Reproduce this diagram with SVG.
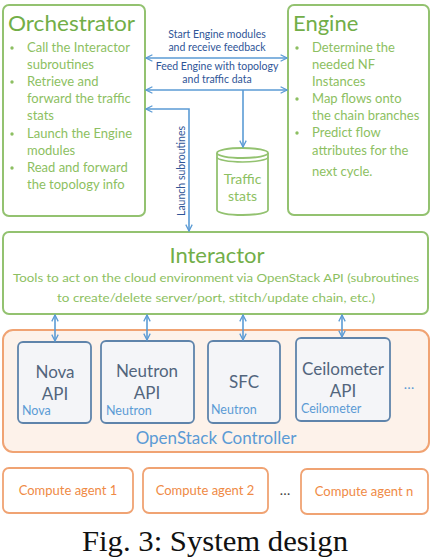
<svg xmlns="http://www.w3.org/2000/svg" width="433" height="559" viewBox="0 0 433 559">
  <style>
    .gbox { fill: #ffffff; stroke: #93c270; stroke-width: 2; }
    .gtitle { font-family: Lato, "Open Sans", sans-serif; font-size: 22px; fill: #72ae48; }
    .gtext { font-family: Lato, "Open Sans", sans-serif; font-size: 13px; fill: #8dbf62; }
    .bullet { fill: #8dbf62; }
    .conn { fill: none; stroke: #5b9bd5; stroke-width: 1.6; }
    .clabel { font-family: Lato, "Open Sans", sans-serif; font-size: 10.5px; fill: #2f5597; text-anchor: middle; }
    .api { fill: #f4f5f8; stroke: #5f84ab; stroke-width: 1.8; }
    .apititle { font-family: Lato, "Open Sans", sans-serif; font-size: 17px; fill: #52657d; text-anchor: middle; }
    .apisub { font-family: Lato, "Open Sans", sans-serif; font-size: 12.5px; fill: #5b9bd5; }
    .obox { fill: #ffffff; stroke: #f0a373; stroke-width: 1.8; }
    .otext { font-family: Lato, "Open Sans", sans-serif; font-size: 13px; fill: #ef8a45; text-anchor: middle; }
    .dots { font-family: Lato, "Open Sans", sans-serif; font-size: 14px; fill: #5b9bd5; text-anchor: middle; }
  </style>
  <defs>
    <marker id="head" viewBox="0 0 10 10" refX="9" refY="5" markerWidth="8" markerHeight="8" markerUnits="userSpaceOnUse" orient="auto-start-reverse">
      <path d="M1,1 L9,5 L1,9" fill="none" stroke="#5b9bd5" stroke-width="1.6"/>
    </marker>
  </defs>

  <rect width="433" height="559" fill="#ffffff"/>

  <!-- OpenStack controller container -->
  <g id="openstack">
    <rect x="3" y="330" width="426" height="122" rx="10" fill="#fdf2ea" stroke="#f0a373" stroke-width="2"/>
    <text x="216" y="444" text-anchor="middle" font-family="Lato, 'Open Sans', sans-serif" font-size="17" fill="#5b9bd5">OpenStack Controller</text>
    <text class="dots" x="409" y="389">…</text>
  </g>

  <!-- Orchestrator -->
  <g id="orchestrator">
    <rect class="gbox" x="3" y="5" width="142" height="211" rx="6"/>
    <text class="gtitle" x="8" y="31" textLength="127" lengthAdjust="spacingAndGlyphs">Orchestrator</text>
    <circle class="bullet" cx="12" cy="48" r="1.7"/>
    <circle class="bullet" cx="12" cy="82" r="1.7"/>
    <circle class="bullet" cx="12" cy="134" r="1.7"/>
    <circle class="bullet" cx="12" cy="168" r="1.7"/>
    <text class="gtext" x="27" y="52">Call the Interactor</text>
    <text class="gtext" x="27" y="69">subroutines</text>
    <text class="gtext" x="27" y="86">Retrieve and</text>
    <text class="gtext" x="27" y="103">forward the traffic</text>
    <text class="gtext" x="27" y="120">stats</text>
    <text class="gtext" x="27" y="138">Launch the Engine</text>
    <text class="gtext" x="27" y="155">modules</text>
    <text class="gtext" x="27" y="172">Read and forward</text>
    <text class="gtext" x="27" y="189">the topology info</text>
  </g>

  <!-- Engine -->
  <g id="engine">
    <rect class="gbox" x="288" y="5" width="141" height="210" rx="6"/>
    <text class="gtitle" x="293" y="31">Engine</text>
    <circle class="bullet" cx="297" cy="48" r="1.7"/>
    <circle class="bullet" cx="297" cy="99" r="1.7"/>
    <circle class="bullet" cx="297" cy="133" r="1.7"/>
    <text class="gtext" x="312" y="52">Determine the</text>
    <text class="gtext" x="312" y="69">needed NF</text>
    <text class="gtext" x="312" y="86">Instances</text>
    <text class="gtext" x="312" y="103">Map flows onto</text>
    <text class="gtext" x="312" y="120">the chain branches</text>
    <text class="gtext" x="312" y="137">Predict flow</text>
    <text class="gtext" x="312" y="155">attributes for the</text>
    <text class="gtext" x="312" y="176">next cycle.</text>
  </g>

  <!-- Traffic stats store -->
  <g id="traffic-stats">
    <path d="M217,153 L217,210 A25.5,5 0 0 0 268,210 L268,153" fill="#ffffff" stroke="#93c270" stroke-width="1.8"/>
    <ellipse cx="242.5" cy="153" rx="25.5" ry="5" fill="#ffffff" stroke="#93c270" stroke-width="1.8"/>
    <path d="M217,157 A25.5,5 0 0 0 268,157" fill="none" stroke="#93c270" stroke-width="1.5"/>
    <text x="242.5" y="184" text-anchor="middle" font-family="Lato, 'Open Sans', sans-serif" font-size="14" fill="#8dbf62">Traffic</text>
    <text x="242.5" y="201" text-anchor="middle" font-family="Lato, 'Open Sans', sans-serif" font-size="14" fill="#8dbf62">stats</text>
  </g>

  <!-- Interactor -->
  <g id="interactor">
    <rect class="gbox" x="3" y="232" width="425" height="82" rx="6"/>
    <text x="217" y="263" text-anchor="middle" font-family="Lato, 'Open Sans', sans-serif" font-size="22" fill="#72ae48">Interactor</text>
    <text x="216" y="282" text-anchor="middle" font-family="Lato, 'Open Sans', sans-serif" font-size="11.5" fill="#8dbf62" textLength="406" lengthAdjust="spacingAndGlyphs">Tools to act on the cloud environment via OpenStack API (subroutines</text>
    <text x="216" y="302" text-anchor="middle" font-family="Lato, 'Open Sans', sans-serif" font-size="11.5" fill="#8dbf62" textLength="318" lengthAdjust="spacingAndGlyphs">to create/delete server/port, stitch/update chain, etc.)</text>
  </g>

  <!-- API services -->
  <g id="nova-api">
    <rect class="api" x="18" y="342" width="73" height="81" rx="5"/>
    <text class="apititle" x="55" y="378">Nova</text>
    <text class="apititle" x="55" y="400">API</text>
    <text class="apisub" x="22" y="415">Nova</text>
  </g>
  <g id="neutron-api">
    <rect class="api" x="101" y="341" width="93" height="82" rx="5"/>
    <text class="apititle" x="147" y="377">Neutron</text>
    <text class="apititle" x="147" y="399">API</text>
    <text class="apisub" x="106" y="415">Neutron</text>
  </g>
  <g id="sfc">
    <rect class="api" x="208" y="341" width="72" height="82" rx="5"/>
    <text class="apititle" x="244" y="388">SFC</text>
    <text class="apisub" x="211" y="414">Neutron</text>
  </g>
  <g id="ceilometer-api">
    <rect class="api" x="296" y="338" width="94" height="83" rx="5"/>
    <text class="apititle" x="343" y="375">Ceilometer</text>
    <text class="apititle" x="343" y="397">API</text>
    <text class="apisub" x="301" y="413">Ceilometer</text>
  </g>

  <!-- Compute agents -->
  <g id="compute-agent-1">
    <rect class="obox" x="3" y="468" width="130" height="45" rx="6"/>
    <text class="otext" x="68" y="495">Compute agent 1</text>
  </g>
  <g id="compute-agent-2">
    <rect class="obox" x="143" y="468" width="125" height="45" rx="6"/>
    <text class="otext" x="205" y="495">Compute agent 2</text>
  </g>
  <text x="285" y="495" text-anchor="middle" font-family="Lato, 'Open Sans', sans-serif" font-size="14" fill="#444444">…</text>
  <g id="compute-agent-n">
    <rect class="obox" x="301" y="469" width="127" height="45" rx="6"/>
    <text class="otext" x="364" y="496">Compute agent n</text>
  </g>

  <!-- Connectors -->
  <g id="connectors">
    <line class="conn" x1="146" y1="58" x2="287" y2="58" marker-start="url(#head)" marker-end="url(#head)"/>
    <line class="conn" x1="146" y1="90" x2="287" y2="90" marker-start="url(#head)" marker-end="url(#head)"/>
    <line class="conn" x1="243" y1="90" x2="243" y2="147" marker-end="url(#head)"/>
    <polyline class="conn" points="146,109 189,109 189,231" marker-start="url(#head)" marker-end="url(#head)"/>
    <line class="conn" x1="55" y1="315" x2="55" y2="341" marker-start="url(#head)" marker-end="url(#head)"/>
    <line class="conn" x1="147" y1="315" x2="147" y2="340" marker-start="url(#head)" marker-end="url(#head)"/>
    <line class="conn" x1="243" y1="315" x2="243" y2="340" marker-start="url(#head)" marker-end="url(#head)"/>
    <line class="conn" x1="342" y1="315" x2="342" y2="337" marker-start="url(#head)" marker-end="url(#head)"/>
    <text class="clabel" x="217" y="38">Start Engine modules</text>
    <text class="clabel" x="217" y="51">and receive feedback</text>
    <text class="clabel" x="217" y="70">Feed Engine with topology</text>
    <text class="clabel" x="217" y="83">and traffic data</text>
    <text class="clabel" font-size="11" transform="translate(185,171) rotate(-90)">Launch subroutines</text>
  </g>

  <!-- Caption -->
  <text x="215" y="551" text-anchor="middle" font-family="'Liberation Serif', 'Times New Roman', serif" font-size="30" fill="#111111" textLength="266" lengthAdjust="spacingAndGlyphs">Fig. 3: System design</text>
</svg>
